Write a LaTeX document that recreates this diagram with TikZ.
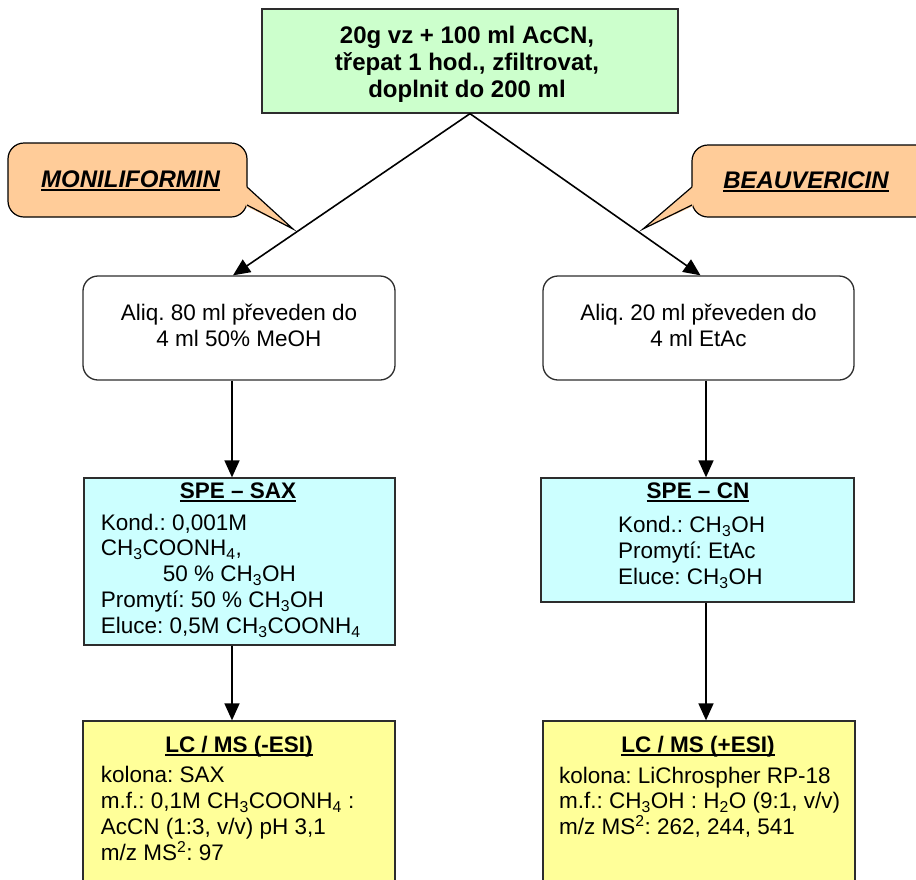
\documentclass[tikz,border=0pt]{standalone}
\usepackage{fontspec}
\setmainfont{Liberation Sans}
\usetikzlibrary{arrows.meta}
\definecolor{boxgreen}{RGB}{204,255,204}
\definecolor{boxcyan}{RGB}{204,255,255}
\definecolor{boxyellow}{RGB}{255,255,153}
\definecolor{peach}{RGB}{255,204,153}
\definecolor{edgecol}{RGB}{45,45,45}
\newcommand{\lsub}[1]{\textsubscript{#1}}
\newcommand{\thul}[1]{\setbox0\hbox{#1}\rlap{\rule[-4.3pt]{\wd0}{1.9pt}}\box0}
\frenchspacing
\tikzset{
  box/.style={draw=edgecol, line width=1.3pt, inner sep=0pt, rectangle},
  rbox/.style={box, rounded corners=15pt, fill=white},
  callbody/.style={draw=black, line width=1.2pt, inner sep=0pt, rectangle, rounded corners=16pt, fill=peach},
  conn/.style={line width=1.6pt, -{Triangle[length=17pt,width=15pt]}},
  ttl/.style={inner sep=0pt, anchor=base, font=\fontsize{22.5}{26}\selectfont\bfseries\frenchspacing},
  calltxt/.style={inner sep=0pt, anchor=base, font=\fontsize{24}{27}\selectfont\bfseries\itshape},
}
\begin{document}
\begin{tikzpicture}[x=1pt,y=-1pt]
\useasboundingbox (0,0) rectangle (916,879);
\clip (0,0) rectangle (916,879);

% boxes
\node[box, fill=boxgreen, minimum width=416pt, minimum height=104pt] (top) at (470,61) {};
\node[rbox, minimum width=312pt, minimum height=104pt] (lw) at (239,328) {};
\node[rbox, minimum width=311pt, minimum height=104pt] (rw) at (698.5,328) {};
\node[box, fill=boxcyan, minimum width=311pt, minimum height=167pt] (lc) at (239.5,561.5) {};
\node[box, fill=boxcyan, minimum width=313pt, minimum height=124pt] (rc) at (697.5,540) {};
\node[box, fill=boxyellow, minimum width=312pt, minimum height=180pt] (ly) at (239,811) {};
\node[box, fill=boxyellow, minimum width=312pt, minimum height=180pt] (ry) at (699,811) {};

% callouts
\node[callbody, minimum width=239pt, minimum height=74pt] (cl) at (127.5,180) {};
\fill[peach] (245.6,186) -- (293,229) -- (245.6,206) -- cycle;
\draw[line width=1.2pt, line join=miter] (247,187) -- (293,229) -- (247,205);
\node[callbody, minimum width=250pt, minimum height=72pt] (cr) at (817,181) {};
\fill[peach] (693.4,186) -- (643,229) -- (693.4,206) -- cycle;
\draw[line width=1.2pt, line join=miter] (692,187) -- (643,229) -- (692,205);

% connectors
\coordinate (lx) at (232,0);
\coordinate (rx) at (706,0);
\draw[conn] (top.south) -- ([xshift=-6pt]lw.north);
\draw[conn] (top.south) -- ([xshift=2pt]rw.north);
\draw[conn] (lw.south -| lx) -- (lc.north -| lx);
\draw[conn] (lc.south -| lx) -- (ly.north -| lx);
\draw[conn] (rw.south -| rx) -- (rc.north -| rx);
\draw[conn] (rc.south -| rx) -- (ry.north -| rx);

% texts
\node[inner sep=0pt, anchor=north, align=center, font=\fontsize{24}{27}\selectfont\bfseries] (toptext) at (467,24.1)
  {\strut 20g vz + 100 ml AcCN,\\třepat 1 hod., zfiltrovat,\\doplnit do 200 ml};

\node[calltxt] (cltext) at (130.5,187) {\thul{MONILIFORMIN}};
\node[calltxt] (crtext) at (806,188) {\thul{BEAUVERICIN}};

\node[inner sep=0pt, anchor=north, align=center, font=\fontsize{22.5}{26.5}\selectfont] (lwtext) at (239,301.5)
  {\strut Aliq. 80 ml převeden do\\4 ml 50\% MeOH};
\node[inner sep=0pt, anchor=north, align=center, font=\fontsize{22.5}{26.5}\selectfont] (rwtext) at (698.5,301.5)
  {\strut Aliq. 20 ml převeden do\\4 ml EtAc};

\node[ttl] (lctitle) at (238,498) {\thul{SPE – SAX}};
\node[inner sep=0pt, anchor=north west, align=left, font=\fontsize{22.5}{25.8}\selectfont] (lctext) at (100.7,511.9)
  {\strut Kond.: 0,001M\\CH\lsub{3}COONH\lsub{4},\\\hspace*{62pt}50 \% CH\lsub{3}OH\\Promytí: 50 \% CH\lsub{3}OH\\Eluce: 0,5M CH\lsub{3}COONH\lsub{4}};

\node[ttl] (rctitle) at (698,498) {\thul{SPE – CN}};
\node[inner sep=0pt, anchor=north west, align=left, font=\fontsize{22.5}{26}\selectfont] (rctext) at (618,514.5)
  {\strut Kond.: CH\lsub{3}OH\\Promytí: EtAc\\Eluce: CH\lsub{3}OH};

\node[ttl] (lytitle) at (239,752) {\thul{LC / MS (-ESI)}};
\node[inner sep=0pt, anchor=north west, align=left, font=\fontsize{22.5}{25.7}\selectfont] (lytext) at (100.7,764.7)
  {\strut kolona: SAX\\m.f.: 0,1M CH\lsub{3}COONH\lsub{4} :\\AcCN (1:3, v/v) pH 3,1\\m/z MS\textsuperscript{2}: 97};

\node[ttl] (rytitle) at (698,752) {\thul{LC / MS (+ESI)}};
\node[inner sep=0pt, anchor=north west, align=left, font=\fontsize{22.5}{25.5}\selectfont] (rytext) at (559,765)
  {\strut kolona: LiChrospher RP-18\\m.f.: CH\lsub{3}OH : H\lsub{2}O (9:1, v/v)\\m/z MS\textsuperscript{2}: 262, 244, 541};
\end{tikzpicture}
\end{document}
